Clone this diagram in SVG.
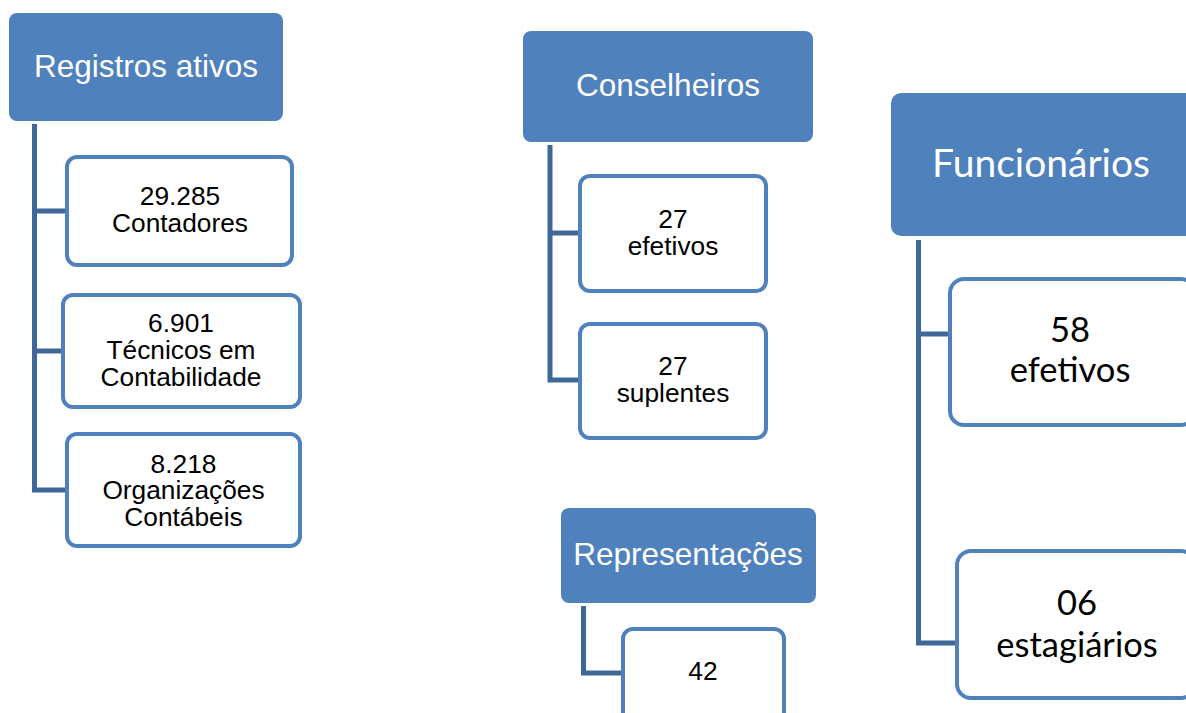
<svg xmlns="http://www.w3.org/2000/svg" width="1186" height="713" viewBox="0 0 1186 713">
<style>
.hdr{fill:#4F81BD}
.box{fill:#FFFFFF;stroke:#4F81BD;stroke-width:4}
.conn{fill:none;stroke:#3F6797;stroke-width:5;stroke-linejoin:miter}
.ht{font-family:"Liberation Sans",Arial,sans-serif;font-size:31.5px;fill:#FFFFFF;text-anchor:middle}
.bt{font-family:"Liberation Sans",Arial,sans-serif;font-size:26.3px;fill:#000000;text-anchor:middle}
.hc{font-family:Lato,"Noto Sans",sans-serif;font-size:39px;fill:#FFFFFF;text-anchor:middle}
.bc{font-family:Lato,"Noto Sans",sans-serif;font-size:34.5px;fill:#000000;text-anchor:middle}
</style>
<rect width="1186" height="713" fill="#FFFFFF"/>
<g id="connectors">
<path class="conn" d="M34.5,124 V490 H67 M34.5,211 H67 M34.5,351 H63"/>
<path class="conn" d="M550,145 V380 H580 M550,233 H580"/>
<path class="conn" d="M583.5,606 V673 H623"/>
<path class="conn" d="M918.5,240 V643 H957 M918.5,334 H950"/>
</g>
<g id="registros">
<rect class="hdr" x="9" y="13" width="274" height="108" rx="8"/>
<text class="ht" x="146" y="77">Registros ativos</text>
</g>
<g id="contadores">
<rect class="box" x="67" y="157" width="225" height="108" rx="10"/>
<text class="bt" x="180" y="205">29.285</text>
<text class="bt" x="180" y="232">Contadores</text>
</g>
<g id="tecnicos">
<rect class="box" x="63" y="295" width="237" height="112" rx="10"/>
<text class="bt" x="181" y="332">6.901</text>
<text class="bt" x="181" y="359">Técnicos em</text>
<text class="bt" x="181" y="386">Contabilidade</text>
</g>
<g id="organizacoes">
<rect class="box" x="67" y="434" width="233" height="112" rx="10"/>
<text class="bt" x="183.5" y="473">8.218</text>
<text class="bt" x="183.5" y="499">Organizações</text>
<text class="bt" x="183.5" y="526">Contábeis</text>
</g>
<g id="conselheiros">
<rect class="hdr" x="523" y="31" width="290" height="111" rx="8"/>
<text class="ht" x="668" y="96">Conselheiros</text>
</g>
<g id="cons-efetivos">
<rect class="box" x="580" y="176" width="186" height="115" rx="10"/>
<text class="bt" x="673" y="228">27</text>
<text class="bt" x="673" y="255">efetivos</text>
</g>
<g id="cons-suplentes">
<rect class="box" x="580" y="324" width="186" height="114" rx="10"/>
<text class="bt" x="673" y="375">27</text>
<text class="bt" x="673" y="402">suplentes</text>
</g>
<g id="representacoes">
<rect class="hdr" x="561" y="508" width="255" height="95" rx="8"/>
<text class="ht" x="688" y="565">Representações</text>
</g>
<g id="rep-42">
<rect class="box" x="623" y="629" width="161" height="100" rx="10"/>
<text class="bt" x="703" y="680">42</text>
</g>
<g id="funcionarios">
<rect class="hdr" x="891" y="93" width="305" height="143" rx="10"/>
<text class="hc" x="1041" y="177">Funcionários</text>
</g>
<g id="func-efetivos">
<rect class="box" x="950" y="279" width="245" height="146" rx="14"/>
<text class="bc" x="1070" y="342">58</text>
<text class="bc" x="1070" y="382">efetivos</text>
</g>
<g id="func-estagiarios">
<rect class="box" x="957" y="551" width="238" height="147" rx="14"/>
<text class="bc" x="1077" y="615">06</text>
<text class="bc" x="1077" y="657">estagiários</text>
</g>
</svg>
